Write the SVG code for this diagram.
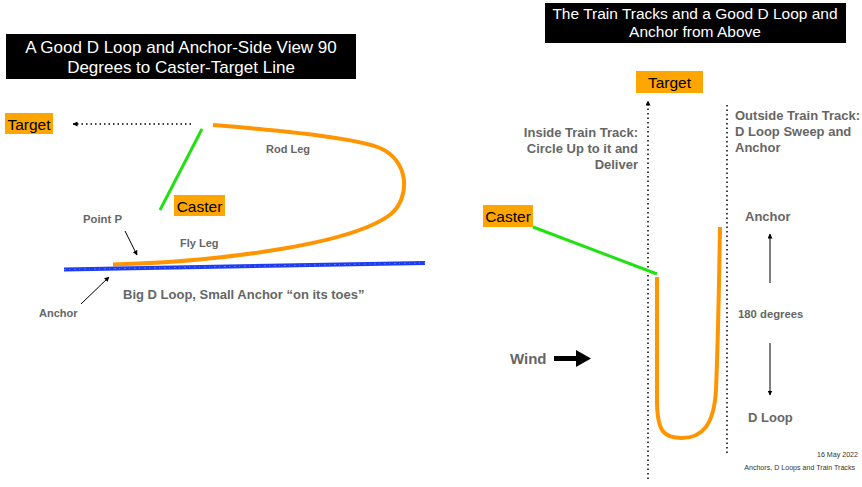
<svg xmlns="http://www.w3.org/2000/svg" width="862" height="487" viewBox="0 0 862 487">
<defs>
<style>
.title{font-family:"Liberation Sans",Arial,sans-serif;fill:#fff;text-anchor:middle}
.lbl{font-family:"Liberation Sans",Arial,sans-serif;font-size:15.5px;fill:#000;text-anchor:middle}
.g{font-family:"Liberation Sans",Arial,sans-serif;font-weight:bold;fill:#666}
.s11{font-size:11px}
.s13{font-size:13px}
.small{font-family:"Liberation Sans",Arial,sans-serif;fill:#333;font-size:7.1px;text-anchor:end}
.box{fill:#FFA500}
.dot{stroke:#000;stroke-width:1.5;stroke-dasharray:1.5 3;fill:none}
.thin{stroke:#000;stroke-width:1;fill:none}
.orange{stroke:#FF9500;stroke-width:4;fill:none;stroke-linecap:butt}
.green{stroke:#22E012;stroke-width:3;fill:none}
</style>
<marker id="ah" viewBox="0 0 10 10" refX="9" refY="5" markerWidth="5" markerHeight="5" orient="auto" markerUnits="userSpaceOnUse">
<path d="M0,0 L10,5 L0,10 z" fill="#000"/>
</marker>
</defs>
<rect width="862" height="487" fill="#fff"/>

<g id="title-left">
<rect x="6" y="34" width="350" height="45" fill="#000"/>
<text class="title" x="181" y="53" style="font-size:17px">A Good D Loop and Anchor-Side View 90</text>
<text class="title" x="181" y="73" style="font-size:17px">Degrees to Caster-Target Line</text>
</g>

<g id="title-right">
<rect x="545" y="3" width="301" height="40" fill="#000"/>
<text class="title" x="695" y="19" style="font-size:15.5px">The Train Tracks and a Good D Loop and</text>
<text class="title" x="695" y="37" style="font-size:15.5px">Anchor from Above</text>
</g>

<g id="connectors">
<line class="dot" x1="191" y1="124" x2="73" y2="124" marker-end="url(#ah)"/>
<line class="thin" x1="125" y1="231" x2="137" y2="255" marker-end="url(#ah)"/>
<line class="thin" x1="81" y1="304" x2="109" y2="277" marker-end="url(#ah)"/>
<line class="dot" x1="648" y1="479" x2="648" y2="101" marker-end="url(#ah)"/>
<line class="dot" x1="727" y1="105" x2="727" y2="453"/>
<line class="thin" x1="770" y1="283" x2="770" y2="234" marker-end="url(#ah)"/>
<line class="thin" x1="770" y1="343" x2="770" y2="395" marker-end="url(#ah)"/>
</g>

<g id="left-rod">
<line class="green" x1="202" y1="129" x2="160" y2="210"/>
<path class="orange" d="M213,125 C290,131 355,138 380,148 C410,161 410,198 391,214 C350,246 210,262 113,264.5"/>
<line x1="64" y1="269.5" x2="425" y2="263" stroke="#1E3CF0" stroke-width="4"/>
<line x1="64" y1="269.5" x2="425" y2="263" stroke="#5A78FF" stroke-width="1" stroke-dasharray="2 3 1 4"/>
</g>

<g id="target-left">
<rect class="box" x="5" y="113" width="48" height="21"/>
<text class="lbl" x="29" y="130">Target</text>
</g>

<g id="caster-left">
<rect class="box" x="174" y="195" width="51" height="21"/>
<text class="lbl" x="199.5" y="212">Caster</text>
</g>

<g id="labels-left">
<text class="g s11" x="266" y="153">Rod Leg</text>
<text class="g" x="83" y="223" style="font-size:11.3px">Point P</text>
<text class="g s11" x="180" y="247">Fly Leg</text>
<text class="g s11" x="39" y="317">Anchor</text>
<text class="g s13" x="123" y="299">Big D Loop, Small Anchor “on its toes”</text>
</g>

<g id="target-right">
<rect class="box" x="636" y="71" width="67" height="22"/>
<text class="lbl" x="669.5" y="88">Target</text>
</g>

<g id="caster-right">
<rect class="box" x="483" y="205" width="50" height="22"/>
<text class="lbl" x="508" y="222">Caster</text>
</g>

<g id="rod-right">
<line class="green" x1="533" y1="227" x2="657" y2="274"/>
<path class="orange" d="M657,277 L657,400 C657,432 664,438 682,438 C702,438 714,425 716,390 C718,340 719,290 720,227"/>
</g>

<g id="wind">
<text class="g" x="510" y="364" style="font-size:15px">Wind</text>
<path d="M554,356 L576,356 L576,350 L591,358.5 L576,367 L576,361 L554,361 z" fill="#000"/>
</g>

<g id="labels-right">
<text class="g s13" x="638" y="137" text-anchor="end">Inside Train Track:</text>
<text class="g s13" x="638" y="153" text-anchor="end">Circle Up to it and</text>
<text class="g s13" x="638" y="169" text-anchor="end">Deliver</text>
<text class="g s13" x="735" y="120">Outside Train Track:</text>
<text class="g s13" x="735" y="136">D Loop Sweep and</text>
<text class="g s13" x="735" y="152">Anchor</text>
<text class="g s13" x="745" y="221">Anchor</text>
<text class="g" x="738" y="318" style="font-size:11.3px">180 degrees</text>
<text class="g s13" x="748" y="422">D Loop</text>
<text class="small" x="858" y="457">16 May 2022</text>
<text class="small" x="855" y="470">Anchors, D Loops and Train Tracks</text>
</g>
</svg>
